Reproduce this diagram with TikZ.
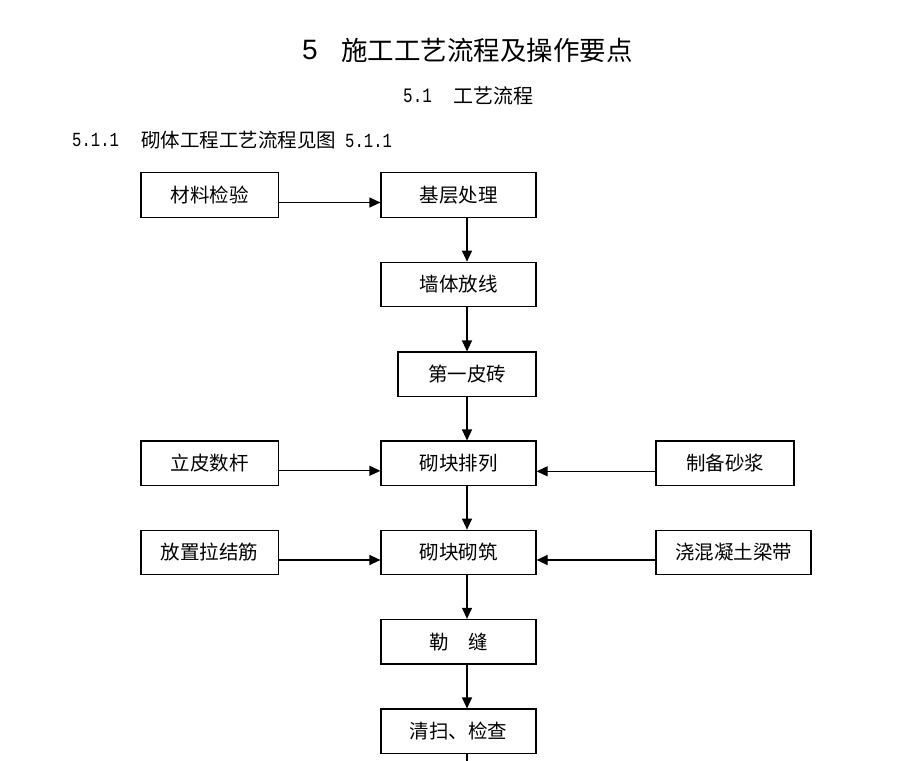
\documentclass[tikz,border=0pt]{standalone}
\usepackage{fontspec}
\setmainfont{Noto Sans CJK SC}
\newfontfamily\numfont[FakeStretch=0.78]{Liberation Mono}
\newfontfamily\headnum{Liberation Sans}
\usepackage{tikz}
\usetikzlibrary{arrows.meta}

\begin{document}
\begin{tikzpicture}[x=1pt,y=-1pt,
    box/.style={draw,line width=1.2pt,minimum width=155pt,minimum height=44.5pt,
      inner sep=0pt,font=\fontsize{19.5}{19.5}\selectfont},
    sidebox/.style={box,minimum width=137.5pt},
    flow/.style={line width=1.2pt,-{Triangle[length=11pt,width=10pt]}},
    txt/.style={anchor=west,inner sep=0pt}]
    \useasboundingbox (0,0) rectangle (920,760);
    % headings
    \node[txt,font=\headnum\fontsize{28}{28}\selectfont] (hnum) at (302,50) {5};
    \node[txt,font=\fontsize{26.5}{27}\selectfont] (head) at (341,50) {施工工艺流程及操作要点};
    \node[txt,font=\numfont\fontsize{20.5}{20.5}\selectfont] (subnum) at (403,96) {5.1};
    \node[txt,font=\fontsize{20}{20}\selectfont] (sub) at (453,96) {工艺流程};
    \node[txt,font=\numfont\fontsize{20}{20}\selectfont] (capnum) at (72,140) {5.1.1};
    \node[txt,font=\fontsize{19.5}{20}\selectfont] (cap) at (141,140) {砌体工程工艺流程见图\hspace{9pt}{\numfont\fontsize{20}{20}\selectfont 5.1.1}};
    % main column
    \node[box] (base) at (458.5,195) {基层处理};
    \node[box] (wall) at (458.5,284.5) {墙体放线};
    \node[box,minimum width=138pt] (first) at (467,374.3) {第一皮砖};
    \node[box] (arrange) at (458.5,463.3) {砌块排列};
    \node[box] (lay) at (458.5,552.5) {砌块砌筑};
    \node[box] (joint) at (458.5,641.7) {勒　缝};
    \node[box] (clean) at (458.5,731.3) {清扫、检查};
    \coordinate (tail) at (467,762);
    % side boxes
    \node[sidebox] (check) at (209.7,195) {材料检验};
    \node[sidebox] (pole) at (209.7,463.3) {立皮数杆};
    \node[sidebox] (tie) at (209.7,552.5) {放置拉结筋};
    \node[sidebox,minimum width=138pt] (mortar) at (725,463.3) {制备砂浆};
    \node[box] (beam) at (733.5,552.5) {浇混凝土梁带};
    % vertical flow
    \draw[flow] ([xshift=8.5pt]base.south) -- ([xshift=8.5pt]wall.north);
    \draw[flow] ([xshift=8.5pt]wall.south) -- (first.north);
    \draw[flow] (first.south) -- ([xshift=8.5pt]arrange.north);
    \draw[flow] ([xshift=8.5pt]arrange.south) -- ([xshift=8.5pt]lay.north);
    \draw[flow] ([xshift=8.5pt]lay.south) -- ([xshift=8.5pt]joint.north);
    \draw[flow] ([xshift=8.5pt]joint.south) -- ([xshift=8.5pt]clean.north);
    \draw[line width=1.2pt] ([xshift=8.5pt]clean.south) -- (tail);
    % side inputs
    \draw[flow] ([yshift=-7.5pt]check.east) -- ([yshift=-7.5pt]base.west);
    \draw[flow] ([yshift=-7.5pt]pole.east) -- ([yshift=-7.5pt]arrange.west);
    \draw[flow] ([yshift=-7.5pt]tie.east) -- ([yshift=-7.5pt]lay.west);
    \draw[flow] ([yshift=-8pt]mortar.west) -- ([yshift=-8pt]arrange.east);
    \draw[flow] ([yshift=-7.5pt]beam.west) -- ([yshift=-7.5pt]lay.east);
\end{tikzpicture}
\end{document}
